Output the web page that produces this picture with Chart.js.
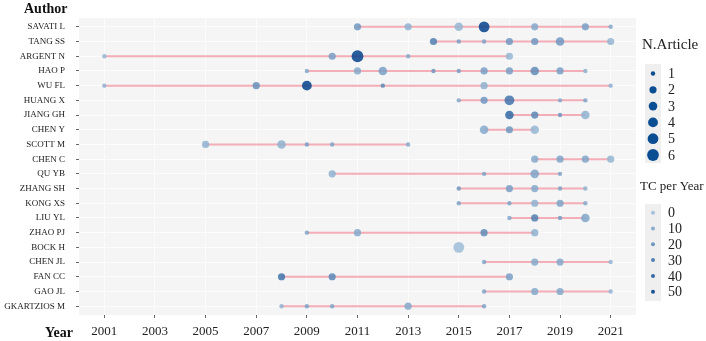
<!DOCTYPE html>
<html>
<head>
<meta charset="utf-8">
<script src="https://cdn.jsdelivr.net/npm/chart.js@4.4.1/dist/chart.umd.min.js"></script>
<style>
    html, body { margin: 0; padding: 0; background: #fff; }
    #wrap { width: 706px; height: 341px; }
</style>
</head>
<body>
<div id="wrap"><canvas id="authorsChart"></canvas></div>
<script>
const authors = ['SAVATI L', 'TANG SS', 'ARGENT N', 'HAO P', 'WU FL', 'HUANG X', 'JIANG GH', 'CHEN Y',
    'SCOTT M', 'CHEN C', 'QU YB', 'ZHANG SH', 'KONG XS', 'LIU YL', 'ZHAO PJ', 'BOCK H', 'CHEN JL',
    'FAN CC', 'GAO JL', 'GKARTZIOS M'];

const pubYears = [
    [2011, 2013, 2015, 2016, 2018, 2020, 2021],
    [2014, 2015, 2016, 2017, 2018, 2019, 2021],
    [2001, 2010, 2011, 2013, 2017],
    [2009, 2011, 2012, 2014, 2015, 2016, 2017, 2018, 2019, 2020],
    [2001, 2007, 2009, 2012, 2016, 2021],
    [2015, 2016, 2017, 2019, 2020],
    [2017, 2018, 2019, 2020],
    [2016, 2017, 2018],
    [2005, 2008, 2009, 2010, 2013],
    [2018, 2019, 2020, 2021],
    [2010, 2016, 2018, 2019],
    [2015, 2017, 2018, 2019, 2020],
    [2015, 2017, 2018, 2019, 2020],
    [2017, 2018, 2019, 2020],
    [2009, 2011, 2016, 2018],
    [2015],
    [2016, 2018, 2019, 2021],
    [2008, 2010, 2017],
    [2016, 2018, 2019, 2021],
    [2008, 2009, 2010, 2013, 2016]
];

const nArticles = [
    [2, 2, 3, 5, 2, 2, 1],
    [2, 1, 1, 2, 2, 3, 2],
    [1, 2, 6, 1, 2],
    [1, 2, 3, 1, 1, 2, 2, 3, 2, 1],
    [1, 2, 4, 1, 2, 1],
    [1, 2, 4, 1, 1],
    [3, 2, 1, 3],
    [3, 2, 3],
    [2, 3, 1, 1, 1],
    [2, 2, 2, 2],
    [2, 1, 3, 1],
    [1, 2, 2, 1, 1],
    [1, 1, 2, 2, 1],
    [1, 2, 1, 3],
    [1, 2, 2, 2],
    [5],
    [1, 2, 2, 1],
    [2, 2, 2],
    [1, 2, 2, 1],
    [1, 1, 1, 2, 1]
];

const tcPerYear = [
    [15, 5, 3, 50, 8, 12, 8],
    [25, 12, 10, 15, 15, 15, 3],
    [3, 12, 50, 8, 3],
    [8, 8, 12, 15, 12, 12, 12, 20, 12, 5],
    [5, 18, 50, 22, 5, 5],
    [8, 15, 30, 8, 10],
    [35, 22, 15, 5],
    [8, 15, 3],
    [5, 5, 12, 10, 8],
    [8, 10, 10, 3],
    [5, 10, 10, 10],
    [15, 12, 8, 10, 5],
    [10, 10, 5, 10, 8],
    [8, 25, 12, 10],
    [10, 8, 20, 5],
    [0],
    [10, 8, 8, 3],
    [30, 22, 12],
    [10, 8, 8, 3],
    [5, 10, 10, 8, 10]
];

const yearTicks = [2001, 2003, 2005, 2007, 2009, 2011, 2013, 2015, 2017, 2019, 2021];
const articleLegend = [1, 2, 3, 4, 5, 6];
const tcLegend = [0, 10, 20, 30, 40, 50];

// size / colour scales
function radiusFor(n) {
    return [0, 2.2, 3.6, 4.3, 4.9, 5.4, 5.9][n];
}
function colorFor(tc, alpha) {
    const t = Math.min(tc / 50, 1);
    const lo = [158, 189, 215], hi = [4, 66, 140];
    const c = lo.map((v, i) => Math.round(v + (hi[i] - v) * t));
    return `rgba(${c[0]},${c[1]},${c[2]},${alpha})`;
}

const serif = "'Liberation Serif', 'Times New Roman', serif";

const points = [];
authors.forEach((a, i) => {
    pubYears[i].forEach((y, j) => {
        points.push({ x: y, y: i + 1, n: nArticles[i][j], tc: tcPerYear[i][j] });
    });
});

const lineSets = authors.map((a, i) => ({
    type: 'line',
    label: a,
    data: [
        { x: Math.min(...pubYears[i]), y: i + 1 },
        { x: Math.max(...pubYears[i]), y: i + 1 }
    ],
    borderColor: 'rgba(242,160,170,0.85)',
    borderWidth: 2,
    pointRadius: 0,
    order: 2
}));

const decor = {
    id: 'decor',
    beforeDraw(chart) {
        const { ctx, chartArea: a } = chart;
        ctx.save();
        ctx.fillStyle = '#f5f5f5';
        ctx.fillRect(a.left, a.top, a.right - a.left, a.bottom - a.top);
        ctx.restore();
    },
    afterDraw(chart) {
        const ctx = chart.ctx;
        ctx.save();
        ctx.fillStyle = '#111';
        ctx.textBaseline = 'middle';
        ctx.font = `bold 14px ${serif}`;
        ctx.fillText('Author', 24, 9);
        ctx.fillText('Year', 45, 333);

        // N.Article legend
        ctx.font = `15px ${serif}`;
        ctx.fillStyle = '#222';
        ctx.fillText('N.Article', 642, 45);
        ctx.font = `14px ${serif}`;
        ctx.fillStyle = '#efefef';
        ctx.fillRect(645, 64, 16, 99);
        articleLegend.forEach((n, k) => {
            const cy = 73.5 + k * 16.3;
            ctx.beginPath();
            ctx.arc(653, cy, radiusFor(n), 0, Math.PI * 2);
            ctx.fillStyle = '#0b4d93';
            ctx.fill();
            ctx.fillStyle = '#222';
            ctx.fillText(String(n), 668, cy + 1);
        });

        // TC per Year legend
        ctx.font = `13px ${serif}`;
        ctx.fillText('TC per Year', 640, 187);
        ctx.font = `14px ${serif}`;
        ctx.fillStyle = '#efefef';
        ctx.fillRect(645, 204, 16, 97);
        tcLegend.forEach((v, k) => {
            const cy = 212.7 + k * 15.8;
            ctx.beginPath();
            ctx.arc(653, cy, 2, 0, Math.PI * 2);
            ctx.fillStyle = colorFor(v, 0.9);
            ctx.fill();
            ctx.fillStyle = '#222';
            ctx.fillText(String(v), 668, cy + 1);
        });
        ctx.restore();
    }
};

new Chart(document.getElementById('authorsChart'), {
    type: 'scatter',
    data: {
        datasets: [{
            label: 'points',
            data: points,
            order: 1,
            pointRadius: c => radiusFor(c.raw.n),
            pointHoverRadius: c => radiusFor(c.raw.n),
            backgroundColor: c => colorFor(c.raw.tc, 0.85),
            borderWidth: 0
        }, ...lineSets]
    },
    options: {
        responsive: true,
        maintainAspectRatio: false,
        animation: false,
        layout: { padding: { top: 18, right: 70, left: 0, bottom: 0 } },
        plugins: {
            legend: { display: false },
            tooltip: { enabled: false }
        },
        scales: {
            x: {
                type: 'linear',
                min: 2000,
                max: 2022,
                afterBuildTicks: axis => { axis.ticks = yearTicks.map(v => ({ value: v })); },
                afterFit: axis => { axis.height = 26; },
                ticks: {
                    color: '#222',
                    font: { family: serif, size: 13 },
                    padding: 6,
                    maxRotation: 0,
                    callback: v => String(v)
                },
                grid: { color: '#fcfcfc', tickColor: '#666', tickLength: 3 },
                border: { display: false }
            },
            y: {
                type: 'linear',
                min: 0.4,
                max: 20.6,
                reverse: true,
                afterBuildTicks: axis => { axis.ticks = authors.map((a, i) => ({ value: i + 1 })); },
                afterFit: axis => { axis.width = 79; },
                ticks: {
                    color: '#1a1a1a',
                    font: { family: serif, size: 9 },
                    padding: 11,
                    callback: v => authors[v - 1]
                },
                grid: { color: '#fcfcfc', tickColor: '#666', tickLength: 3 },
                border: { display: false }
            }
        }
    },
    plugins: [decor]
});
</script>
</body>
</html>
